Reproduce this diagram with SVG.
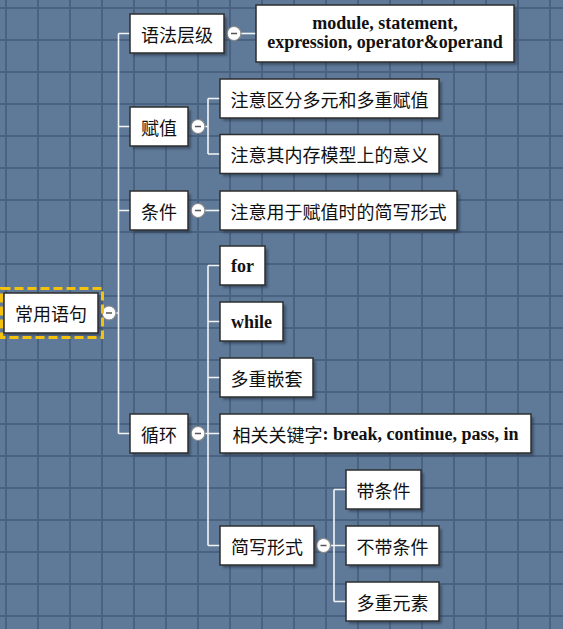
<svg xmlns="http://www.w3.org/2000/svg" width="563" height="629" viewBox="0 0 563 629">
  <defs>
    <pattern id="grid" x="5" y="7" width="32" height="32" patternUnits="userSpaceOnUse">
      <rect width="32" height="32" fill="#5f7a98"/>
      <path d="M0 1 H32 M1 0 V32" stroke="#4a6180" stroke-width="2" fill="none"/>
    </pattern>
    <filter id="shadow" x="-10%" y="-20%" width="130%" height="150%">
      <feGaussianBlur stdDeviation="1"/>
    </filter>
  </defs>
  <style>
    .box { fill: #ffffff; stroke: #2e2e2e; stroke-width: 1.5; }
    .shd { fill: #1e2a38; opacity: 0.45; filter: url(#shadow); }
    .t { font-family: "Noto Sans CJK SC", sans-serif; font-size: 18px; fill: #111; text-anchor: middle; dominant-baseline: central; }
    .b { font-family: "Liberation Serif", "Times New Roman", "DejaVu Serif", serif; font-weight: bold; }
    .conn { stroke: #f2f4f7; stroke-width: 1.6; fill: none; }
    .tog circle { fill: #ffffff; stroke: #8a8a8a; stroke-width: 1.2; }
    .tog path { stroke: #555; stroke-width: 1.5; }
  </style>

  <rect width="563" height="629" fill="url(#grid)"/>

  <!-- connectors -->
  <g id="connectors" class="conn">
    <path d="M116 313 H118.5 M118.5 33.5 V433.5 M118.5 33.5 H130 M118.5 126.5 H130 M118.5 210.5 H130 M118.5 433.5 H130"/>
    <path d="M241 33.5 H256"/>
    <path d="M205 126.5 H208 M208 98.5 V154 M208 98.5 H220 M208 154 H220"/>
    <path d="M205 210.5 H220"/>
    <path d="M205 433.5 H208 M208 265.5 V545.5 M208 265.5 H220 M208 321.5 H220 M208 377.5 H220 M208 433.5 H220 M208 545.5 H220"/>
    <path d="M330.5 545.5 H334 M334 489.5 V601.5 M334 489.5 H346 M334 545.5 H346 M334 601.5 H346"/>
  </g>

  <!-- collapse toggles -->
  <g id="toggles" class="tog">
    <g><circle cx="109" cy="313" r="7"/><path d="M106 313 H112"/></g>
    <g><circle cx="234" cy="33.5" r="7"/><path d="M231 33.5 H237"/></g>
    <g><circle cx="198" cy="126.5" r="7"/><path d="M195 126.5 H201"/></g>
    <g><circle cx="198" cy="210.5" r="7"/><path d="M195 210.5 H201"/></g>
    <g><circle cx="198" cy="433.5" r="7"/><path d="M195 433.5 H201"/></g>
    <g><circle cx="323.5" cy="545.5" r="7"/><path d="M320.5 545.5 H326.5"/></g>
  </g>

  <!-- root -->
  <g id="root">
    <rect class="shd" x="7" y="296" width="94" height="40"/>
    <rect class="box" x="4" y="293" width="94" height="40"/>
    <text class="t" x="51" y="313">常用语句</text>
    <rect x="1.5" y="288.5" width="101" height="49" fill="none" stroke="#f4c20d" stroke-width="3" stroke-dasharray="9 4"/>
  </g>

  <g id="n-grammar">
    <rect class="shd" x="133" y="17" width="94" height="39"/>
    <rect class="box" x="130" y="14" width="94" height="39"/>
    <text class="t" x="177" y="33.5">语法层级</text>
  </g>
  <g id="n-levels">
    <rect class="shd" x="259" y="8" width="258" height="57"/>
    <rect class="box" x="256" y="5" width="258" height="57"/>
    <text class="t b" x="385" y="23">module, statement,</text>
    <text class="t b" x="385" y="42">expression, operator&amp;operand</text>
  </g>

  <g id="n-assign">
    <rect class="shd" x="133" y="110" width="58" height="39"/>
    <rect class="box" x="130" y="107" width="58" height="39"/>
    <text class="t" x="159" y="126.5">赋值</text>
  </g>
  <g id="n-assign-1">
    <rect class="shd" x="223" y="82" width="219" height="39"/>
    <rect class="box" x="220" y="79" width="219" height="39"/>
    <text class="t" x="329.5" y="98.5">注意区分多元和多重赋值</text>
  </g>
  <g id="n-assign-2">
    <rect class="shd" x="223" y="137.5" width="219" height="39"/>
    <rect class="box" x="220" y="134.5" width="219" height="39"/>
    <text class="t" x="329.5" y="154">注意其内存模型上的意义</text>
  </g>

  <g id="n-cond">
    <rect class="shd" x="133" y="194" width="58" height="39"/>
    <rect class="box" x="130" y="191" width="58" height="39"/>
    <text class="t" x="159" y="210.5">条件</text>
  </g>
  <g id="n-cond-1">
    <rect class="shd" x="223" y="194" width="237" height="39"/>
    <rect class="box" x="220" y="191" width="237" height="39"/>
    <text class="t" x="338.5" y="210.5">注意用于赋值时的简写形式</text>
  </g>

  <g id="n-loop">
    <rect class="shd" x="133" y="417" width="58" height="39"/>
    <rect class="box" x="130" y="414" width="58" height="39"/>
    <text class="t" x="159" y="433.5">循环</text>
  </g>
  <g id="n-for">
    <rect class="shd" x="223" y="249" width="45" height="39"/>
    <rect class="box" x="220" y="246" width="45" height="39"/>
    <text class="t b" x="242.5" y="265.5">for</text>
  </g>
  <g id="n-while">
    <rect class="shd" x="223" y="305" width="63" height="39"/>
    <rect class="box" x="220" y="302" width="63" height="39"/>
    <text class="t b" x="251.5" y="321.5">while</text>
  </g>
  <g id="n-nested">
    <rect class="shd" x="223" y="361" width="93" height="39"/>
    <rect class="box" x="220" y="358" width="93" height="39"/>
    <text class="t" x="266.5" y="377.5">多重嵌套</text>
  </g>
  <g id="n-keywords">
    <rect class="shd" x="223" y="417" width="311" height="39"/>
    <rect class="box" x="220" y="414" width="311" height="39"/>
    <text class="t" x="375.5" y="433.5">相关关键字<tspan class="b">: break, continue, pass, in</tspan></text>
  </g>
  <g id="n-short">
    <rect class="shd" x="223" y="529" width="94" height="39"/>
    <rect class="box" x="220" y="526" width="94" height="39"/>
    <text class="t" x="267" y="545.5">简写形式</text>
  </g>
  <g id="n-short-1">
    <rect class="shd" x="349" y="473" width="75" height="39"/>
    <rect class="box" x="346" y="470" width="75" height="39"/>
    <text class="t" x="383.5" y="489.5">带条件</text>
  </g>
  <g id="n-short-2">
    <rect class="shd" x="349" y="529" width="93" height="39"/>
    <rect class="box" x="346" y="526" width="93" height="39"/>
    <text class="t" x="392.5" y="545.5">不带条件</text>
  </g>
  <g id="n-short-3">
    <rect class="shd" x="349" y="585" width="93" height="39"/>
    <rect class="box" x="346" y="582" width="93" height="39"/>
    <text class="t" x="392.5" y="601.5">多重元素</text>
  </g>
</svg>
